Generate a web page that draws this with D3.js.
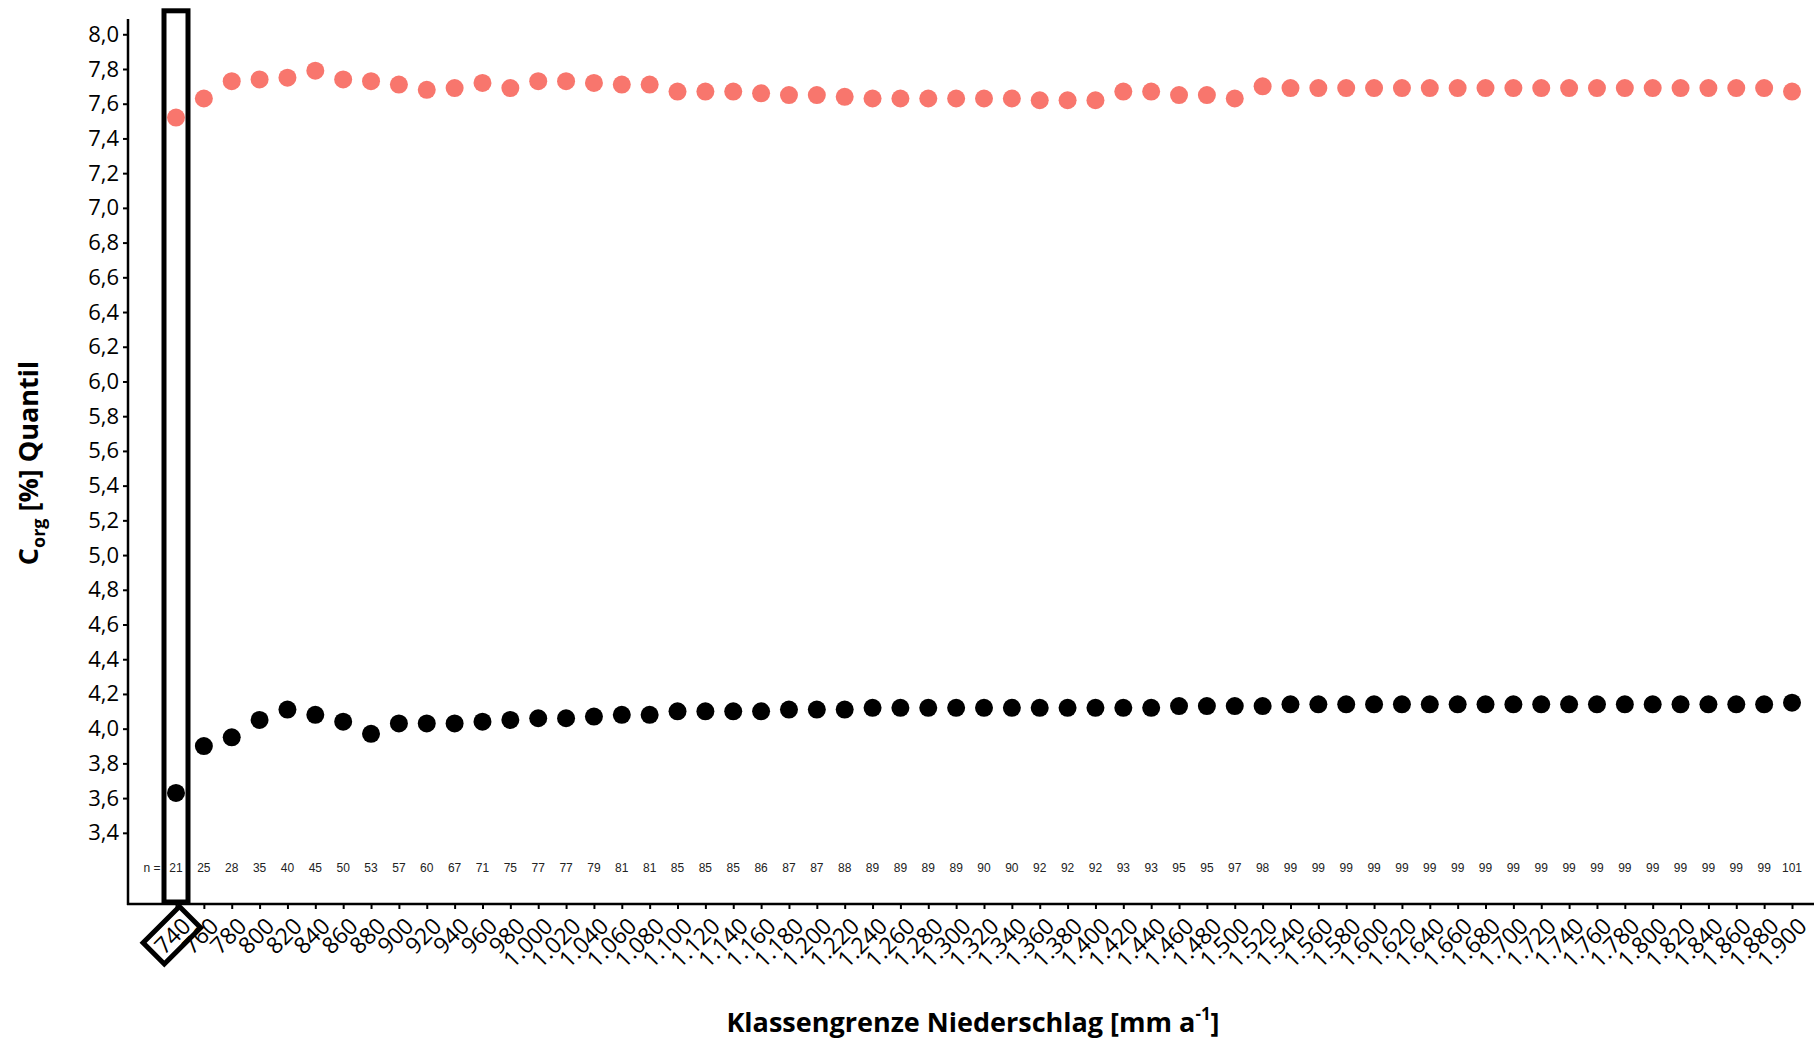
<!DOCTYPE html>
<html>
<head>
<meta charset="utf-8">
<script src="https://cdn.jsdelivr.net/npm/d3@7"></script>
<style>
  html, body { margin: 0; padding: 0; background: #fff; }
  svg { display: block; }
</style>
</head>
<body>
<svg id="chart" width="1814" height="1044"></svg>
<script>
// ---- data ----
const categories = [740,760,780,800,820,840,860,880,900,920,940,960,980,1000,1020,1040,1060,1080,1100,1120,1140,1160,1180,1200,1220,1240,1260,1280,1300,1320,1340,1360,1380,1400,1420,1440,1460,1480,1500,1520,1540,1560,1580,1600,1620,1640,1660,1680,1700,1720,1740,1760,1780,1800,1820,1840,1860,1880,1900];
const upperQuantil = [7.52,7.63,7.73,7.74,7.75,7.79,7.74,7.73,7.71,7.68,7.69,7.72,7.69,7.73,7.73,7.72,7.71,7.71,7.67,7.67,7.67,7.66,7.65,7.65,7.64,7.63,7.63,7.63,7.63,7.63,7.63,7.62,7.62,7.62,7.67,7.67,7.65,7.65,7.63,7.70,7.69,7.69,7.69,7.69,7.69,7.69,7.69,7.69,7.69,7.69,7.69,7.69,7.69,7.69,7.69,7.69,7.69,7.69,7.67];
const lowerQuantil = [3.63,3.90,3.95,4.05,4.11,4.08,4.04,3.97,4.03,4.03,4.03,4.04,4.05,4.06,4.06,4.07,4.08,4.08,4.10,4.10,4.10,4.10,4.11,4.11,4.11,4.12,4.12,4.12,4.12,4.12,4.12,4.12,4.12,4.12,4.12,4.12,4.13,4.13,4.13,4.13,4.14,4.14,4.14,4.14,4.14,4.14,4.14,4.14,4.14,4.14,4.14,4.14,4.14,4.14,4.14,4.14,4.14,4.14,4.15];
const counts = [21,25,28,35,40,45,50,53,57,60,67,71,75,77,77,79,81,81,85,85,85,86,87,87,88,89,89,89,89,90,90,92,92,92,93,93,95,95,97,98,99,99,99,99,99,99,99,99,99,99,99,99,99,99,99,99,99,99,101];
const yTicks = [3.4,3.6,3.8,4.0,4.2,4.4,4.6,4.8,5.0,5.2,5.4,5.6,5.8,6.0,6.2,6.4,6.6,6.8,7.0,7.2,7.4,7.6,7.8,8.0];
const highlighted = 740;
const xTitle = "Klassengrenze Niederschlag [mm a";
const yTitle = ["C", "org", " [%] Quantil"];

// ---- layout ----
const svg = d3.select("#chart");
const axisLeftX = 128, axisBottomY = 904, plotTop = 19, plotRight = 1814;
const de = d3.formatLocale({decimal: ",", thousands: ".", grouping: [3], currency: ["", " €"]});
const fmtX = de.format(",d");
const fmtY = de.format(",.1f");
const FONT = "'Open Sans', 'DejaVu Sans', sans-serif";

const x = d3.scalePoint().domain(categories).range([176, 1792]);
const y = d3.scaleLinear().domain([2.99, 8.088]).range([axisBottomY, plotTop]);

// y axis
const gy = svg.append("g").attr("transform", `translate(${axisLeftX},0)`)
  .call(d3.axisLeft(y).tickValues(yTicks).tickFormat(fmtY).tickSize(5).tickPadding(4));
gy.select(".domain").remove();
gy.selectAll(".tick line").attr("stroke", "#000").attr("stroke-width", 2);
gy.selectAll(".tick text").attr("font-family", FONT).attr("font-size", 22).attr("fill", "#000");

// x axis
const gx = svg.append("g").attr("transform", `translate(0,${axisBottomY})`)
  .call(d3.axisBottom(x).tickFormat(fmtX).tickSize(5));
gx.select(".domain").remove();
gx.selectAll(".tick line").attr("stroke", "#000").attr("stroke-width", 2);
gx.selectAll(".tick text")
  .attr("font-family", FONT).attr("font-size", 23).attr("fill", "#000")
  .attr("text-anchor", "end")
  .attr("x", 0).attr("y", 0).attr("dy", "0.35em")
  .attr("transform", "translate(10,18) rotate(-45)");

// axis lines
svg.append("line").attr("x1", axisLeftX).attr("x2", axisLeftX).attr("y1", plotTop).attr("y2", axisBottomY + 1)
  .attr("stroke", "#000").attr("stroke-width", 2.5);
svg.append("line").attr("x1", axisLeftX - 1).attr("x2", plotRight).attr("y1", axisBottomY).attr("y2", axisBottomY)
  .attr("stroke", "#000").attr("stroke-width", 2.5);

// count labels
const nY = 868;
svg.append("text").attr("x", x(categories[0]) - 24).attr("y", nY).attr("dy", "0.35em")
  .attr("text-anchor", "middle").attr("font-family", "'Liberation Sans', Arial, sans-serif")
  .attr("font-size", 12).attr("fill", "#222").text("n =");
svg.append("g").selectAll("text").data(categories).join("text")
  .attr("x", d => x(d)).attr("y", nY).attr("dy", "0.35em")
  .attr("text-anchor", "middle").attr("font-family", "'Liberation Sans', Arial, sans-serif")
  .attr("font-size", 12).attr("fill", "#222")
  .text((d, i) => counts[i]);

// points
svg.append("g").selectAll("circle").data(categories).join("circle")
  .attr("cx", d => x(d)).attr("cy", (d, i) => y(upperQuantil[i])).attr("r", 9)
  .attr("fill", "#F8766D");
svg.append("g").selectAll("circle").data(categories).join("circle")
  .attr("cx", d => x(d)).attr("cy", (d, i) => y(lowerQuantil[i])).attr("r", 9)
  .attr("fill", "#000");

// highlight column
const hx = x(highlighted);
svg.append("rect").attr("x", hx - 12).attr("y", 10.8).attr("width", 24).attr("height", axisBottomY - 10.8 - 2)
  .attr("fill", "none").attr("stroke", "#000").attr("stroke-width", 5);

// highlight box around label
gx.selectAll(".tick").filter(d => d === highlighted).each(function() {
  const t = d3.select(this).select("text");
  const bb = t.node().getBBox();
  d3.select(this).append("rect")
    .attr("transform", t.attr("transform"))
    .attr("x", bb.x - 6).attr("y", bb.y + 1)
    .attr("width", bb.width + 12).attr("height", bb.height - 2)
    .attr("fill", "none").attr("stroke", "#000").attr("stroke-width", 5);
});

// titles
const xt = svg.append("text").attr("x", 973).attr("y", 1032)
  .attr("text-anchor", "middle").attr("font-family", FONT).attr("font-weight", "bold")
  .attr("font-size", 27).attr("fill", "#000");
xt.append("tspan").text(xTitle);
xt.append("tspan").attr("font-size", 17).attr("dy", -12).text("-1");
xt.append("tspan").attr("dy", 12).text("]");

const yt = svg.append("text").attr("transform", "translate(38,463) rotate(-90)")
  .attr("text-anchor", "middle").attr("font-family", FONT).attr("font-weight", "bold")
  .attr("font-size", 27).attr("fill", "#000");
yt.append("tspan").text(yTitle[0]);
yt.append("tspan").attr("font-size", 18).attr("dy", 7).text(yTitle[1]);
yt.append("tspan").attr("dy", -7).text(yTitle[2]);
</script>
</body>
</html>
